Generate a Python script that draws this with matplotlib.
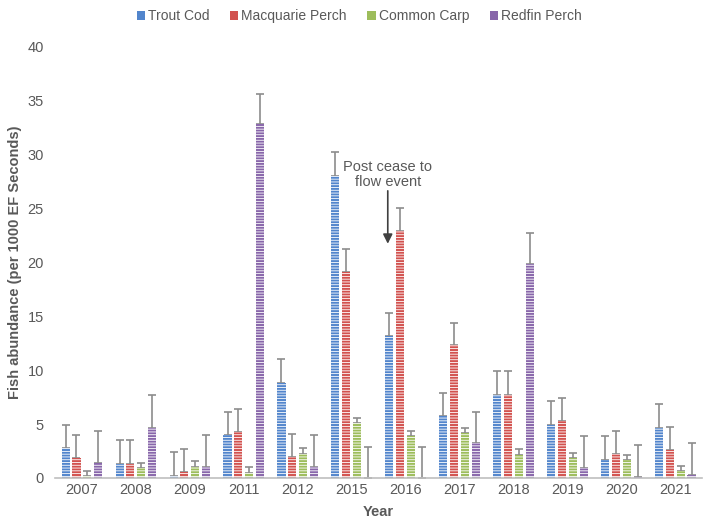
import matplotlib.pyplot as plt
import numpy as np

plt.rcParams['font.family'] = ['Liberation Sans', 'DejaVu Sans']
plt.rcParams['hatch.linewidth'] = 0.6

# === DATA ===
years = ['2007', '2008', '2009', '2011', '2012', '2015', '2016',
         '2017', '2018', '2019', '2020', '2021']

species = ['Trout Cod', 'Macquarie Perch', 'Common Carp', 'Redfin Perch']

# mean abundance (per 1000 EF seconds)
trout_cod = [2.8, 1.3, 0.2, 3.95, 8.8, 28.0, 13.2, 5.7, 7.7, 4.9, 1.65, 4.65]
macquarie_perch = [1.85, 1.3, 0.55, 4.25, 1.9, 19.1, 22.9, 12.3, 7.7, 5.25, 2.2, 2.6]
common_carp = [0.2, 0.9, 1.05, 0.5, 2.2, 5.1, 3.9, 4.15, 2.15, 1.85, 1.7, 0.65]
redfin_perch = [1.4, 4.65, 1.05, 32.8, 1.0, 0.0, 0.0, 3.2, 19.8, 0.9, 0.05, 0.25]

# top of the upper error bar
trout_cod_err = [4.95, 3.5, 2.4, 6.1, 11.0, 30.2, 15.3, 7.9, 9.9, 7.1, 3.9, 6.85]
macquarie_perch_err = [4.0, 3.5, 2.7, 6.4, 4.1, 21.2, 25.0, 14.4, 9.9, 7.4, 4.4, 4.75]
common_carp_err = [0.65, 1.4, 1.55, 1.0, 2.8, 5.6, 4.4, 4.65, 2.65, 2.35, 2.15, 1.15]
redfin_perch_err = [4.4, 7.65, 4.0, 35.6, 4.0, 2.9, 2.9, 6.1, 22.7, 3.85, 3.05, 3.2]

colors = ['#5285cc', '#d2524f', '#9dbd5b', '#8866aa']

means = [trout_cod, macquarie_perch, common_carp, redfin_perch]
tops = [trout_cod_err, macquarie_perch_err, common_carp_err, redfin_perch_err]

# === FIGURE ===
fig, ax = plt.subplots(figsize=(7.13, 5.19), dpi=100)
fig.subplots_adjust(left=0.077, right=0.985, bottom=0.079, top=0.911)

x = np.arange(len(years))
width = 0.15
offsets = [-0.3, -0.1, 0.1, 0.3]

for name, vals, top, col, off in zip(species, means, tops, colors, offsets):
    vals = np.array(vals)
    top = np.array(top)
    ax.bar(x + off, vals, width, color=col, edgecolor='white', linewidth=0,
           hatch='------', label=name, zorder=2)
    ax.errorbar(x + off, vals, yerr=[np.zeros_like(vals), top - vals],
                fmt='none', ecolor='#8c8c8c', elinewidth=1.2, capsize=3,
                capthick=1.2, zorder=1)

# annotation for the 2016 event
ax.text(5.67, 28.1, 'Post cease to\nflow event', ha='center', va='center',
        fontsize=10.5, color='#595959', linespacing=1.1)
ax.annotate('', xy=(5.67, 21.7), xytext=(5.67, 26.6),
            arrowprops=dict(arrowstyle='-|>', color='#404040', lw=1.2,
                            mutation_scale=14, shrinkA=0, shrinkB=0))

ax.set_xlim(-0.5, len(years) - 0.5)
ax.set_ylim(0, 40)
ax.set_xticks(x)
ax.set_xticklabels(years)
ax.set_yticks(np.arange(0, 41, 5))
ax.tick_params(axis='both', length=0, labelsize=10.5, labelcolor='#595959')
ax.tick_params(axis='y', pad=8)

for s in ['top', 'right', 'left']:
    ax.spines[s].set_visible(False)
ax.spines['bottom'].set_color('#bfbfbf')
ax.spines['bottom'].set_linewidth(1.2)

ax.set_xlabel('Year', fontsize=10.5, fontweight='bold', color='#595959', labelpad=6)
ax.set_ylabel('Fish abundance (per 1000 EF Seconds)', fontsize=10.5,
              fontweight='bold', color='#595959', labelpad=4)

leg = ax.legend(loc='upper center', bbox_to_anchor=(0.47, 1.115), ncol=4,
                frameon=False, fontsize=10, handlelength=0.6, handleheight=0.6,
                handletextpad=0.2, columnspacing=1.5)
for h in leg.legend_handles:
    h.set_hatch(None)
for t in leg.get_texts():
    t.set_color('#595959')

plt.savefig('out.png', dpi=100, facecolor='white')
